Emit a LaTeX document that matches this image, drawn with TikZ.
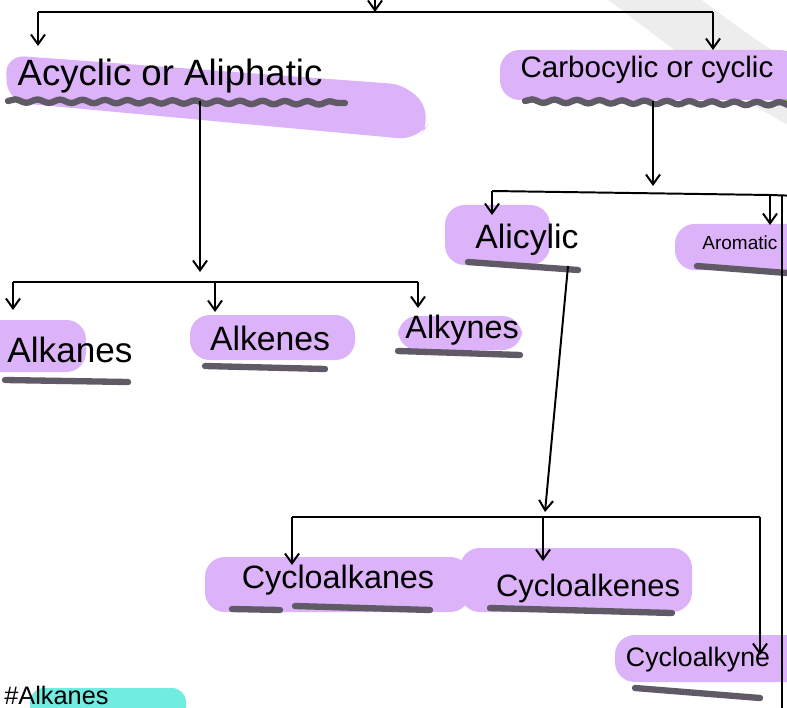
\documentclass[tikz,border=0pt]{standalone}
\usepackage{fontspec}
\setmainfont{Liberation Sans}
\usetikzlibrary{arrows.meta,calc}
\usetikzlibrary{positioning,decorations.pathmorphing}
\definecolor{hlpurple}{RGB}{220,178,248}
\definecolor{hlcyan}{RGB}{112,236,224}
\definecolor{ulgray}{RGB}{95,90,102}

\begin{document}
\begin{tikzpicture}[
  x=0.025cm, y=-0.025cm,
  hl/.style={fill=hlpurple, rounded corners=14pt},
  ul/.style={draw=ulgray, line width=4.5pt, line cap=round},
  wavy/.style={ul, decorate, decoration={snake, amplitude=1.2pt, segment length=16pt}},
  lbl/.style={inner sep=1pt, font=\fontsize{24}{28}\selectfont},
  arr/.style={-{Straight Barb[length=7pt,width=10pt]}},
  line width=1.4pt
  ]
  \useasboundingbox (0,0) rectangle (787,708);
  \clip (0,0) rectangle (787,708);
  \fill[white] (0,0) rectangle (787,708);

  % Watermark in the corner
  \draw[black!7, line width=40pt] (615,-30) .. controls (690,25) and (735,65) .. (810,105);
  \fill[olive!55!green!60!white] (800,85) circle (16pt);

  % Highlights
  \fill[hl] (5,55) -- (410,85) -- (432,118) -- (418,140) -- (8,102) -- cycle;
  \fill[hl] (500,50) rectangle (800,100);
  \fill[hl] (-20,320) rectangle (86,372);
  \fill[hl] (190,315) rectangle (355,360);
  \fill[hl] (398,316) rectangle (522,350);
  \fill[hl] (445,205) rectangle (550,265);
  \fill[hl] (675,224) rectangle (810,270);
  \fill[hl] (205,557) rectangle (470,612);
  \fill[hl] (460,548) rectangle (692,612);
  \fill[hl] (615,635) rectangle (810,682);
  \fill[fill=hlcyan, rounded corners=10pt] (30,688) rectangle (186,730);

  % Labels
  \node[lbl, font=\fontsize{26}{30}\selectfont] (acyc) at (170,76) {Acyclic or Aliphatic};
  \node[lbl, font=\fontsize{21}{25}\selectfont] (carb) at (647,70) {Carbocylic or cyclic};
  \node[lbl, font=\fontsize{25}{30}\selectfont] (alkanes) at (70,350) {Alkanes};
  \node[lbl, right of=alkanes, node distance=5cm, yshift=0.3cm] (alkenes) {Alkenes};
  \node[lbl, font=\fontsize{23}{28}\selectfont, right of=alkenes, node distance=4.8cm, yshift=0.2cm] (alkynes) {Alkynes};
  \node[lbl] (alicylic) at (527,240) {Alicylic};
  \node[lbl, font=\fontsize{13.5}{16}\selectfont, anchor=west] (aromatic) at (700,243) {Aromatic};
  \node[lbl, font=\fontsize{23}{28}\selectfont] (cycalkanes) at (338,580) {Cycloalkanes};
  \node[lbl, font=\fontsize{22}{26}\selectfont, right of=cycalkanes, node distance=6.25cm, yshift=-0.2cm] (cycalkenes) {Cycloalkenes};
  \node[lbl, font=\fontsize{19}{23}\selectfont] (cycalkyne) at (698,660) {Cycloalkyne};
  \node[lbl, font=\fontsize{18}{21}\selectfont, anchor=south west] (hash) at (2,707) {\#Alkanes};

  % Underlines
  \draw[wavy] (8,101) -- (345,103);
  \draw[wavy] (525,101) -- (800,104);
  \draw[ul] (5,380) -- (128,382);
  \draw[ul] (205,366) -- (325,369);
  \draw[ul] (398,351) -- (520,355);
  \draw[ul] (468,262) -- (578,270);
  \draw[ul] (697,266) -- (800,274);
  \draw[ul] (232,609) -- (280,610);
  \draw[ul] (295,606) -- (430,610);
  \draw[ul] (490,608) -- (672,613);
  \draw[ul] (635,688) -- (760,698);

  % Junctions
  \coordinate (root) at (375,-8);
  \coordinate (b1l) at (38,12);
  \coordinate (b1r) at (713,12);
  \coordinate (s1) at (200,101);
  \coordinate (b2l) at (13,282);
  \coordinate (b2m) at (215,282);
  \coordinate (b2r) at (418,282);
  \coordinate (s2) at (653,101);
  \coordinate (b3l) at (492,191);
  \coordinate (b3r) at (770,195);
  \coordinate (s3) at (568,266);
  \coordinate (b4l) at (292,517);
  \coordinate (b4m) at (543,517);
  \coordinate (b4r) at (760,517);

  % Connections
  \draw[arr] (root) -- (375,12);
  \draw (b1l) -- (b1r);
  \draw[arr] (b1l) -- ++(0,34);
  \draw[arr] (b1r) -- ++(0,38);
  \draw[arr] (s1) -- (200,272);
  \draw (b2l) -- (b2r);
  \draw[arr] (b2l) -- ++(0,28);
  \draw[arr] (b2m) -- ++(0,30);
  \draw[arr] (b2r) -- ++(0,26);
  \draw[arr] (s2) -- (653,186);
  \draw (b3l) -- (b3r) -- (800,196);
  \draw[arr] (b3l) -- ++(0,24);
  \draw[arr] (b3r) -- ++(0,30);
  \draw[arr] (s3) -- (545,512);
  \draw (b4l) -- (b4r);
  \draw[arr] (b4l) -- ++(0,48);
  \draw[arr] (b4m) -- ++(0,44);
  \draw[arr] (b4r) -- ++(0,138);
  \draw (782,196) -- (782,720);
\end{tikzpicture}
\end{document}
